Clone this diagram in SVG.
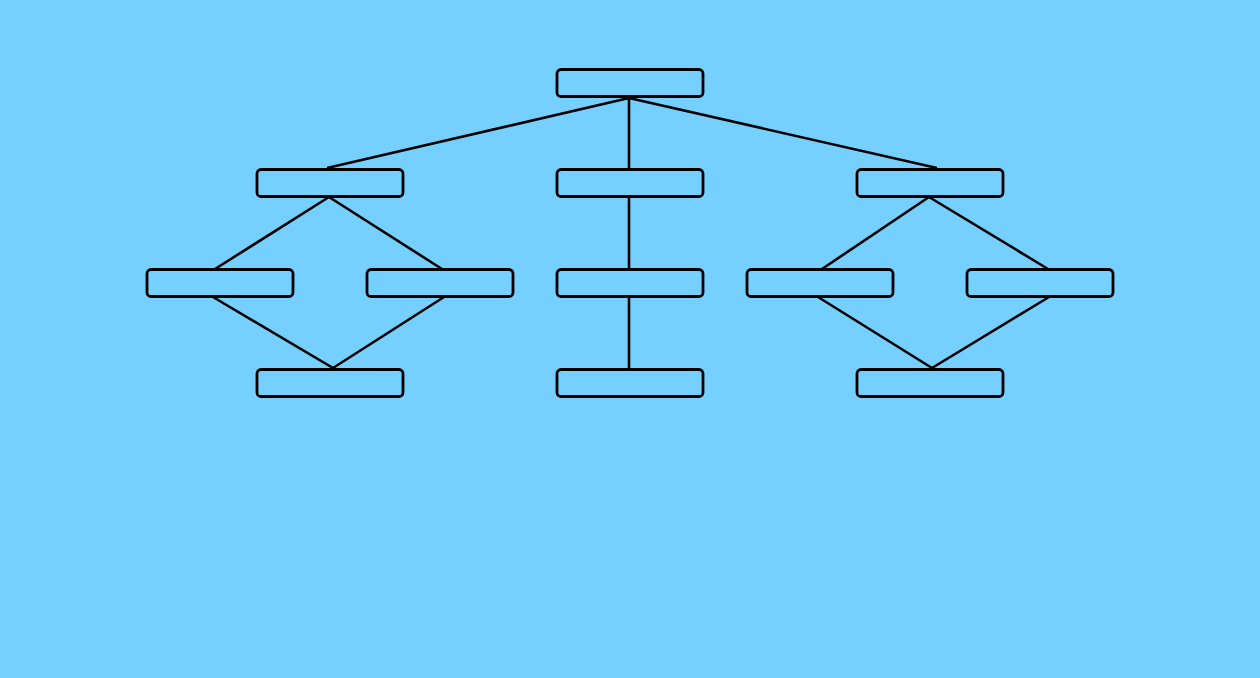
<svg xmlns="http://www.w3.org/2000/svg" width="1260" height="678" viewBox="0 0 1260 678">
<style>
.n{fill:#75d0ff;stroke:#000;stroke-width:2.8}
.c{stroke:#000;stroke-width:2.6;fill:none}
</style>
<rect width="1260" height="678" fill="#75d0ff"/>
<g id="connectors" class="c">
<line x1="629" y1="98" x2="327" y2="168"/>
<line x1="629" y1="98" x2="629" y2="169"/>
<line x1="629" y1="98" x2="937" y2="168"/>
<line x1="629" y1="196" x2="629" y2="269"/>
<line x1="629" y1="296" x2="629" y2="369"/>
<line x1="329" y1="197" x2="215" y2="269"/>
<line x1="329" y1="197" x2="442" y2="269"/>
<line x1="213" y1="297" x2="333" y2="368"/>
<line x1="444" y1="297" x2="333" y2="368"/>
<line x1="929" y1="197" x2="822" y2="269"/>
<line x1="929" y1="197" x2="1048" y2="269"/>
<line x1="818" y1="297" x2="932" y2="368"/>
<line x1="1049" y1="297" x2="932" y2="368"/>
</g>
<g id="n0"><rect class="n" x="557" y="69.5" width="146" height="27" rx="4"/></g>
<g id="n1"><rect class="n" x="257" y="169.5" width="146" height="27" rx="4"/></g>
<g id="n2"><rect class="n" x="557" y="169.5" width="146" height="27" rx="4"/></g>
<g id="n3"><rect class="n" x="857" y="169.5" width="146" height="27" rx="4"/></g>
<g id="n4"><rect class="n" x="147" y="269.5" width="146" height="27" rx="4"/></g>
<g id="n5"><rect class="n" x="367" y="269.5" width="146" height="27" rx="4"/></g>
<g id="n6"><rect class="n" x="557" y="269.5" width="146" height="27" rx="4"/></g>
<g id="n7"><rect class="n" x="747" y="269.5" width="146" height="27" rx="4"/></g>
<g id="n8"><rect class="n" x="967" y="269.5" width="146" height="27" rx="4"/></g>
<g id="n9"><rect class="n" x="257" y="369.5" width="146" height="27" rx="4"/></g>
<g id="n10"><rect class="n" x="557" y="369.5" width="146" height="27" rx="4"/></g>
<g id="n11"><rect class="n" x="857" y="369.5" width="146" height="27" rx="4"/></g>
</svg>
